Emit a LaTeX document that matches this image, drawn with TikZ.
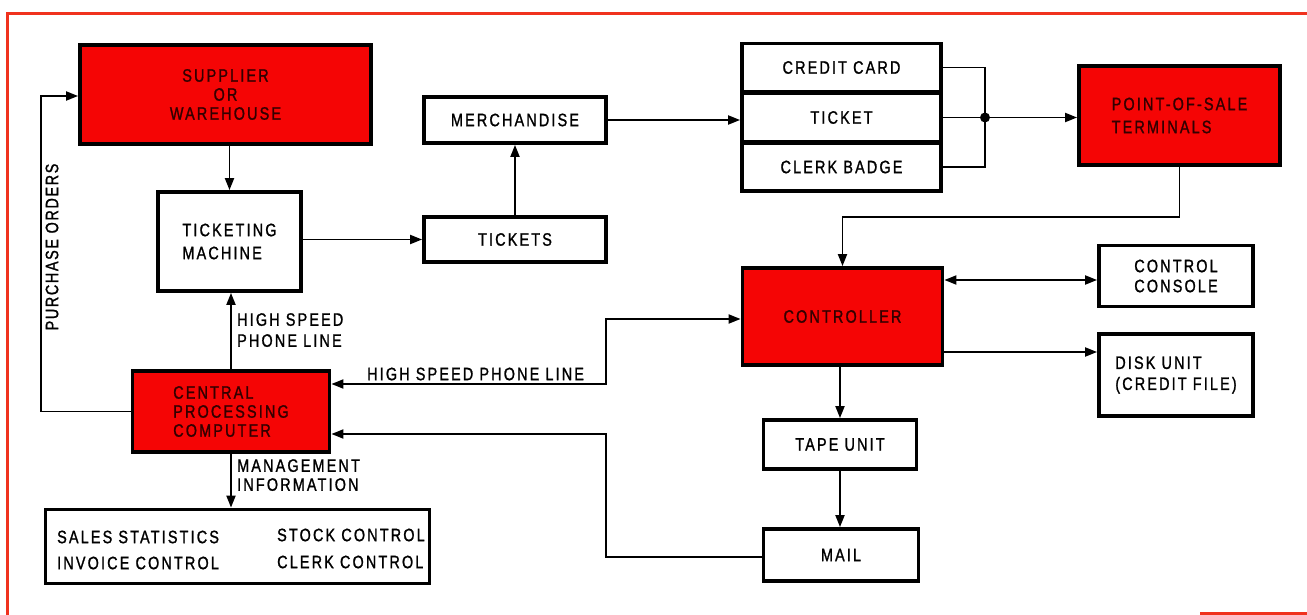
\documentclass[tikz,border=0pt]{standalone}
\usepackage{fontspec}
\newfontfamily\lblfont[FakeStretch=0.8,LetterSpace=12,FakeBold=1.2]{Liberation Sans}
\newfontfamily\pofont[FakeStretch=0.8,LetterSpace=9,FakeBold=1.2]{Liberation Sans}
\usetikzlibrary{arrows.meta,calc}
\definecolor{boxred}{RGB}{245,5,5}
\definecolor{framered}{RGB}{240,50,30}
\definecolor{redtext}{RGB}{50,0,0}
\tikzset{
  lbl/.style={font=\lblfont\fontsize{18}{22}\selectfont, inner sep=0pt},
  box/.style={draw=black, line width=3.8pt, fill=white, lbl, align=center},
  redbox/.style={box, fill=boxred, text=redtext},
  conn/.style={line width=1.9pt, -{Triangle[length=12pt,width=9pt]}},
  dconn/.style={line width=1.9pt, {Triangle[length=12pt,width=9pt]}-{Triangle[length=12pt,width=9pt]}},
  plain/.style={line width=1.9pt},
  frame/.style={framered, line width=3pt},
}
\begin{document}
\begin{tikzpicture}[x=1pt,y=-1pt]
\useasboundingbox (0,0) rectangle (1307,615);
% red frame
\coordinate (ftl) at (7,14);
\coordinate (ftr) at (1307,14);
\coordinate (fbl) at (7,615);
\coordinate (fbr1) at (1200,613);
\coordinate (fbr2) at (1307,613);
\draw[frame] (ftr) -- (ftl) -- (fbl);
\draw[frame] (fbr1) -- (fbr2);

% boxes
\node[redbox, minimum width=291, minimum height=99] (sup) at (225.5,94.5) {SUPPLIER\\[-3pt]OR\\[-3pt]WAREHOUSE};
\node[box, align=left, minimum width=143, minimum height=99] (tm) at (229.5,241.5) {TICKETING\\[1pt]MACHINE};
\node[box, minimum width=182, minimum height=46] (merch) at (515,120) {MERCHANDISE};
\node[box, minimum width=182, minimum height=45] (tkt) at (515,239.5) {TICKETS};
\node[box, minimum width=199, minimum height=48] (cc) at (841.5,67.5) {CREDIT CARD};
\node[box, minimum width=199, minimum height=48] (tk) at (841.5,117.5) {TICKET};
\node[box, minimum width=199, minimum height=48] (cb) at (841.5,167) {CLERK BADGE};
\node[redbox, align=left, minimum width=201, minimum height=99] (pos) at (1179.5,115.5) {POINT-OF-SALE\\[1pt]TERMINALS};
\node[redbox, minimum width=200, minimum height=97] (ctrl) at (842.5,316.5) {CONTROLLER};
\node[box, align=left, minimum width=154, minimum height=61] (con) at (1176,276) {CONTROL\\[-2pt]CONSOLE};
\node[box, align=left, minimum width=154, minimum height=82] (disk) at (1176,375) {DISK UNIT\\[-1pt](CREDIT FILE)};
\node[box, minimum width=153, minimum height=49] (tape) at (840,444.5) {TAPE UNIT};
\node[box, minimum width=155, minimum height=52] (mail) at (841,555) {MAIL};
\node[redbox, align=left, minimum width=197, minimum height=81] (cpu) at (231,411.5) {CENTRAL\\[-3pt]PROCESSING\\[-3pt]COMPUTER};
\node[box, minimum width=384, minimum height=74] (mis) at (237.5,546.5) {};
\node[lbl, anchor=west] (ss) at (57,537) {SALES STATISTICS};
\node[lbl, anchor=west] (ic) at (57,563) {INVOICE CONTROL};
\node[lbl, anchor=west] (sc) at (277,535) {STOCK CONTROL};
\node[lbl, anchor=west] (ck) at (277,562) {CLERK CONTROL};

% labels
\node[lbl, align=left, anchor=north west] (hs1) at (237,313) {HIGH SPEED\\[-1pt]PHONE LINE};
\node[lbl, align=left, anchor=north west] (mi) at (237,459) {MANAGEMENT\\[-3pt]INFORMATION};
\node[lbl, anchor=west] (hs2) at (367,374) {HIGH SPEED PHONE LINE};
\node[lbl, rotate=90, font=\pofont\fontsize{18}{22}\selectfont] (po) at (52,247) {PURCHASE ORDERS};

% coordinates
\coordinate (j) at (985,117.5);
\coordinate (pd) at (1179.5,217);
\coordinate (pl1) at (606,384);
\coordinate (pl2) at (606,319);
\coordinate (ml1) at (606,557);
\coordinate (ml2) at (606,434);
\coordinate (po1) at (41,411.5);
\coordinate (po2) at (41,96);

% connectors
\draw[conn] (sup.south -| tm.north) -- (tm.north);
\draw[conn] (tm.east |- tkt.west) -- (tkt.west);
\draw[conn] (tkt.north) -- (merch.south);
\draw[conn] (merch.east) -- (tk.west |- merch.east);
\draw[plain] (cc.east) -| (j);
\draw[plain] (cb.east) -| (j);
\draw[plain] (tk.east) -- (j);
\fill (j) circle (5pt);
\draw[conn] (j) -- (pos.west |- j);
\draw[conn] (pos.south) -- (pd) -| (ctrl.north);
\draw[dconn] (ctrl.east |- 0,280) -- (con.west |- 0,280);
\draw[conn] (ctrl.east |- 0,352) -- (disk.west |- 0,352);
\draw[conn] (ctrl.south -| tape.north) -- (tape.north);
\draw[conn] (tape.south) -- (mail.north -| tape.south);
\draw[dconn] (cpu.east |- pl1) -- (pl1) -- (pl2) -- (ctrl.west |- pl2);
\draw[conn] (mail.west |- ml1) -- (ml1) -- (ml2) -- (cpu.east |- ml2);
\draw[conn] (cpu.north) -- (tm.south -| cpu.north);
\draw[conn] (cpu.south) -- (mis.north -| cpu.south);
\draw[conn] (cpu.west) -- (po1) -- (po2) -- (sup.west |- po2);
\end{tikzpicture}
\end{document}
